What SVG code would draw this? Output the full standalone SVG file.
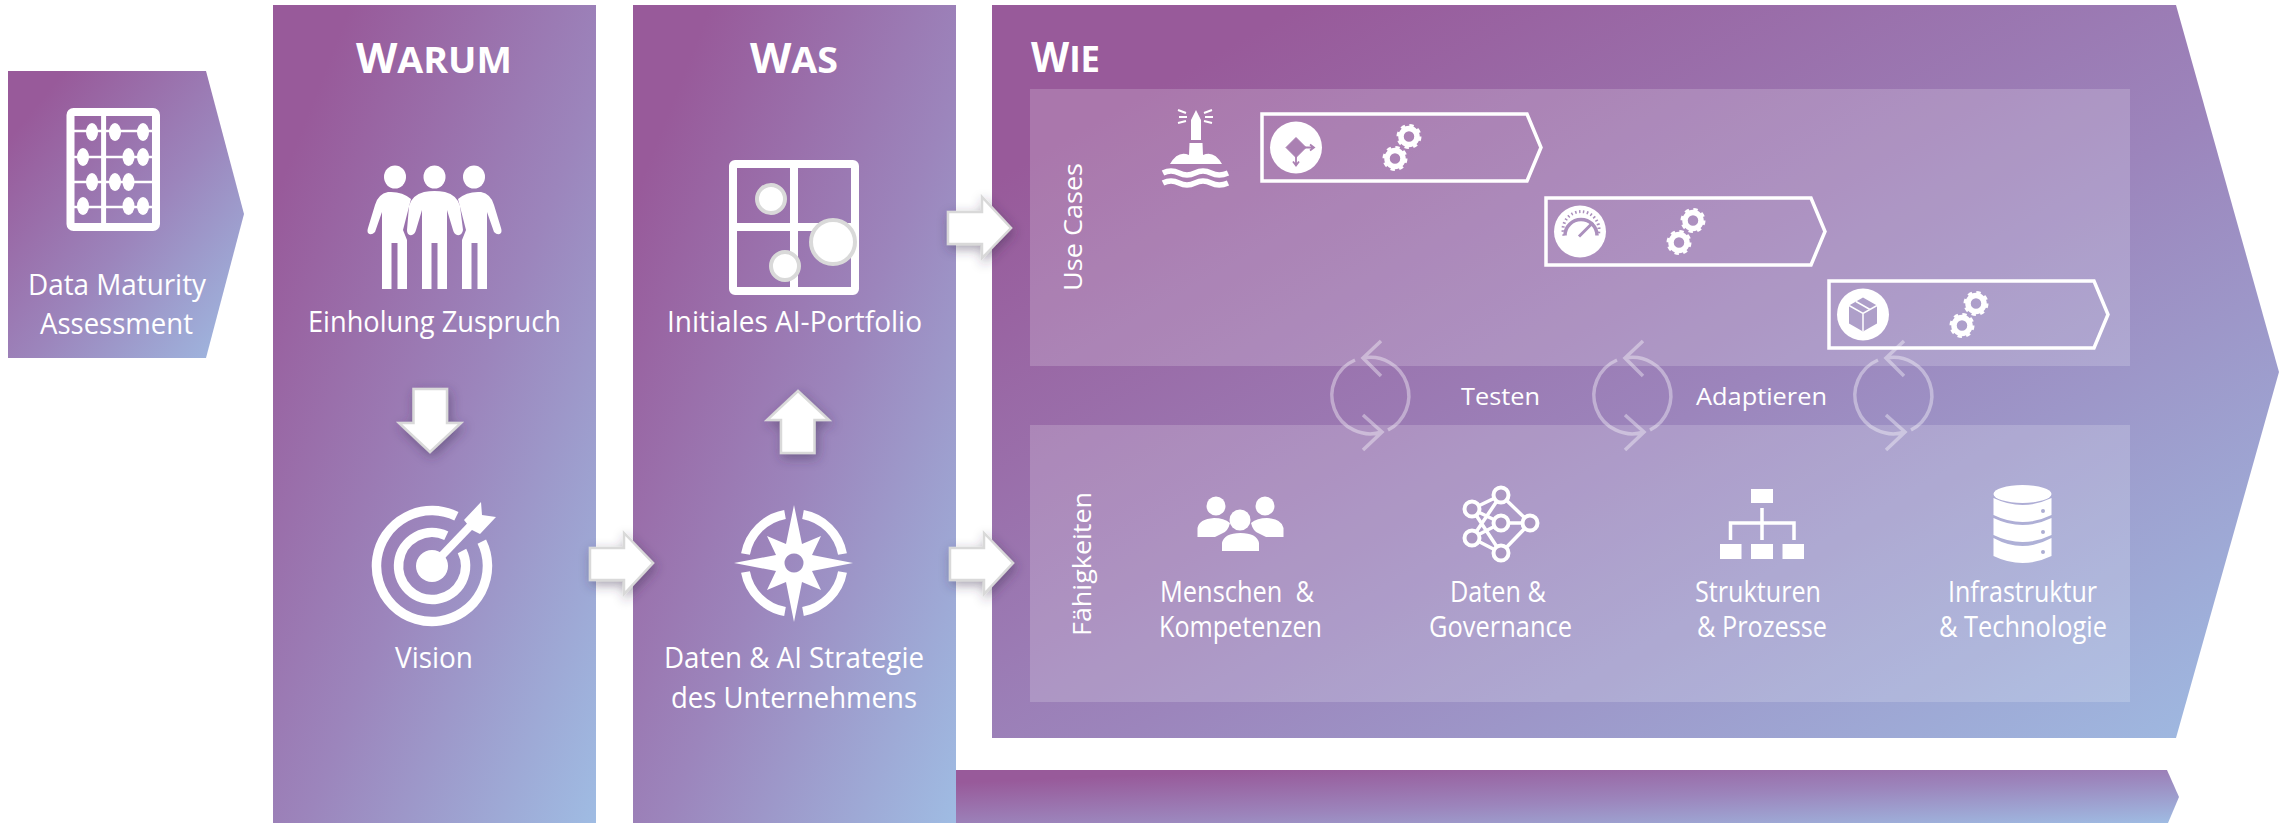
<svg xmlns="http://www.w3.org/2000/svg" width="2290" height="823" viewBox="0 0 2290 823">
<style>
text{font-family:"Open Sans","Liberation Sans",sans-serif;fill:#fff;font-size:29px;text-anchor:start}
.h{font-weight:700;font-size:36px}
.h tspan{font-size:41px}
.s{font-size:26px}
.m{font-size:24px}
.blk{fill:#fff;stroke:none}
.ring{fill:none;stroke:#fff}
.arr{fill:#fff;stroke:#d9d9d9;stroke-width:2.500;filter:url(#sh)}
.cyc{fill:none;stroke:#fff;stroke-opacity:.38;stroke-width:3.500}
.pan{fill:#fff;fill-opacity:.18}
.chev{fill:none;stroke:#fff;stroke-width:3.500}
.dot{fill:#fff;stroke:#d9d9d9;stroke-width:4}
</style>
<defs>
<linearGradient id="g" x1="0" y1="0" x2="1" y2="1">
<stop offset=".12" stop-color="#985a9a"/><stop offset=".55" stop-color="#9c85bc"/><stop offset="1" stop-color="#9fbce3"/>
</linearGradient>
<filter id="sh" x="-40%" y="-40%" width="190%" height="190%"><feDropShadow dx="2" dy="4" stdDeviation="6" flood-color="#3c2a50" flood-opacity=".45"/></filter>
<g id="gear"><circle class="ring" r="8" stroke-width="5.500"/><circle class="ring" r="11" stroke-width="3" stroke-dasharray="4.320 4.320"/></g>
<g id="gears"><use href="#gear" x="113" y="-11"/><use href="#gear" x="99" y="11"/></g>
<path id="chev" class="chev" d="M-34,-33.500H231L245,0L231,33.500H-34Z"/>
</defs>

<g id="assessment">
<polygon points="8,71 206,71 244,214 206,358 8,358" fill="url(#g)"/>
<rect x="70.500" y="112" width="85.500" height="115" rx="3" class="ring" stroke-width="8"/>
<path d="M103.600,112V227" class="ring" stroke-width="5"/>
<path d="M71,131H156M71,157H156M71,182H156M71,207H156" class="ring" stroke-width="2.500"/>
<g class="blk"><ellipse cx="92" cy="132" rx="6" ry="9"/><ellipse cx="115" cy="132" rx="6" ry="9"/><ellipse cx="143" cy="132" rx="6" ry="9"/><ellipse cx="83" cy="157" rx="6" ry="9"/><ellipse cx="128.500" cy="157" rx="6" ry="9"/><ellipse cx="143" cy="157" rx="6" ry="9"/><ellipse cx="92" cy="182" rx="6" ry="9"/><ellipse cx="115" cy="182" rx="6" ry="9"/><ellipse cx="128.500" cy="182" rx="6" ry="9"/><ellipse cx="83" cy="206" rx="6" ry="9"/><ellipse cx="128.500" cy="206" rx="6" ry="9"/><ellipse cx="143" cy="206" rx="6" ry="9"/></g>
<text x="28" y="295" textLength="178" lengthAdjust="spacingAndGlyphs">Data Maturity</text>
<text x="40" y="334" textLength="153" lengthAdjust="spacingAndGlyphs">Assessment</text>
</g>

<g id="warum">
<rect x="273" y="5" width="323" height="818" fill="url(#g)"/>
<text class="h" x="356" y="73" textLength="156" lengthAdjust="spacingAndGlyphs"><tspan>W</tspan>ARUM</text>
<g class="blk">
<ellipse cx="395" cy="177" rx="11" ry="11.500"/><ellipse cx="434.500" cy="177" rx="11" ry="11.500"/><ellipse cx="474" cy="177" rx="11" ry="11.500"/>
<path d="M388,192Q402,191 411,199L403,230L407,240V289H397.500V243H391.500V289H382V212L375,232Q371,236 368,233Q367,231 368,228L375,205Q378,194 388,192Z"/>
<path d="M481,192Q467,191 458,199L466,230L462,240V289H471.500V243H477.500V289H487V212L494,232Q498,236 501,233Q502,231 501,228L494,205Q491,194 481,192Z"/>
<path d="M424,192Q434.500,190 445,192Q457,195 460,206L463,230Q462,236 457,235Q454,234 453,230L447,210V289H437.500V243H431.500V289H422V210L416,230Q415,234 412,235Q407,236 407,230L409,206Q412,195 424,192Z"/>
</g>
<text x="308" y="332" textLength="253" lengthAdjust="spacingAndGlyphs">Einholung Zuspruch</text>
<path d="M481.800,541.600A55.500,55.500 0 1 1 456.400,516.200" class="ring" stroke-width="9.500"/>
<path d="M462,551A33.500,33.500 0 1 1 446.300,535.700" class="ring" stroke-width="9.500"/>
<circle cx="432" cy="566" r="16" class="blk"/>
<path d="M432,566L476,520" class="ring" stroke-width="8"/>
<polygon class="blk" points="481,502 464,520 472,530 480,534 496,517 482,515"/>
<text x="395" y="668" textLength="78" lengthAdjust="spacingAndGlyphs">Vision</text>
</g>

<g id="was">
<rect x="633" y="5" width="323" height="818" fill="url(#g)"/>
<text class="h" x="750" y="73" textLength="88" lengthAdjust="spacingAndGlyphs"><tspan>W</tspan>AS</text>
<rect x="733" y="164" width="122" height="127" rx="2" class="ring" stroke-width="8"/>
<path d="M794,164V291M733,227H855" class="ring" stroke-width="8"/>
<circle class="dot" cx="771" cy="199" r="14"/><circle class="dot" cx="833" cy="242" r="22"/><circle class="dot" cx="785" cy="266" r="14"/>
<text x="667" y="332" textLength="255" lengthAdjust="spacingAndGlyphs">Initiales AI-Portfolio</text>
<path class="blk" fill-rule="evenodd" d="M794,505L802,544L821,536L812,555L853,563L812,571L821,590L802,582L794,622L786,582L767,590L776,571L734,563L776,555L767,536L786,544ZM794,553.500a9.500,9.500 0 1 0 .01,0Z"/>
<path class="ring" stroke-width="9" d="M785,514.500A49,49 0 0 0 745.500,554M745.500,572A49,49 0 0 0 785,611.500M803,611.500A49,49 0 0 0 842.500,572M842.500,554A49,49 0 0 0 803,514.500"/>
<text x="664" y="668" textLength="260" lengthAdjust="spacingAndGlyphs">Daten &amp; AI Strategie</text>
<text x="671" y="708" textLength="246" lengthAdjust="spacingAndGlyphs">des Unternehmens</text>
</g>

<g id="wie">
<polygon points="992,5 2176,5 2279,372 2176,738 992,738" fill="url(#g)"/>
<text class="h" x="1031" y="72" textLength="69" lengthAdjust="spacingAndGlyphs"><tspan>W</tspan>IE</text>
</g>

<g id="bottom-bar"><polygon points="956,770 2167,770 2179,797 2168,823 956,823" fill="url(#g)"/></g>

<g id="use-cases">
<rect class="pan" x="1030" y="89" width="1100" height="277"/>
<text class="s" transform="translate(1082,291) rotate(-90)" textLength="128" lengthAdjust="spacingAndGlyphs">Use Cases</text>
<g id="lighthouse">
<path class="blk" d="M1196,110L1201,120V140H1191V120ZM1189.500,143H1202.500L1203,155Q1214,150 1222,164H1170Q1178,150 1189,155Z"/>
<path d="M1163,173q8,-4 16,0t16,0t16,0t17,0M1163,183q8,-4 16,0t16,0t16,0t17,0" class="ring" stroke-width="5.500"/>
<path d="M1178,110L1186,113M1178,123L1186,121M1179,117H1187M1212,110L1204,113M1212,123L1204,121M1213,117H1205" class="ring" stroke-width="2"/>
</g>
<g id="uc1" transform="translate(1296,147.500)">
<use href="#chev"/><circle r="26" class="blk"/>
<g fill="#aa80b2" stroke="#aa80b2"><path d="M0,-10L10,0L0,10L-10,0Z"/><path d="M8,0H18M14,-3L18,0L14,3M0,8V18M-3,14L0,18L3,14" fill="none" stroke-width="1.800"/></g>
<use href="#gears"/>
</g>
<g id="uc2" transform="translate(1580,231.500)">
<use href="#chev"/><circle r="26" class="blk"/>
<g fill="none" stroke="#ab90bd"><path d="M-15,4A16,16 0 1 1 17,4" stroke-width="3.500"/><path d="M-16,4A18,18 0 1 1 18,4" stroke-width="3" stroke-dasharray="1.500 2.500"/><path d="M-1,5L13,-9" stroke-width="3"/></g>
<use href="#gears"/>
</g>
<g id="uc3" transform="translate(1863,314.500)">
<use href="#chev"/><circle r="26" class="blk"/>
<polygon points="0,-17 14,-9 14,9 0,17 -14,9 -14,-9" fill="#ae9fc9"/>
<path d="M-14,-9L0,-1L14,-9M0,-1V17M-7,-13L7,-5" fill="none" stroke="#fff" stroke-width="1.500"/>
<use href="#gears"/>
</g>
</g>

<g id="faehigkeiten">
<rect class="pan" x="1030" y="425" width="1100" height="277"/>
<text class="s" transform="translate(1091,636) rotate(-90)" textLength="144" lengthAdjust="spacingAndGlyphs">Fähigkeiten</text>
<g id="menschen">
<g class="blk"><circle cx="1216" cy="506" r="9.500"/><circle cx="1265" cy="506" r="9.500"/><circle cx="1240" cy="520" r="10.500"/>
<path d="M1197.500,537V528Q1199,519 1214,518Q1224,518 1230,523Q1228,531 1223,533L1215,537ZM1283.500,537V528Q1282,519 1267,518Q1257,518 1251,523Q1253,531 1258,533L1266,537ZM1222,551V543Q1224,533 1240.500,533Q1257,533 1259,543V551Z"/></g>
<text x="1160" y="602" textLength="154" lengthAdjust="spacingAndGlyphs" xml:space="preserve">Menschen  &amp;</text>
<text x="1159" y="637" textLength="163" lengthAdjust="spacingAndGlyphs">Kompetenzen</text>
</g>
<g id="daten">
<path class="ring" stroke-width="3.500" d="M1472,509L1501,495M1472,509L1501,523M1472,509L1501,553M1472,538L1501,495M1472,538L1501,523M1472,538L1501,553M1501,495L1530,523M1501,523H1530M1501,553L1530,523"/>
<g fill="#ab97c2" stroke="#fff" stroke-width="4"><circle cx="1472" cy="509" r="7.500"/><circle cx="1472" cy="538" r="7.500"/><circle cx="1501" cy="495" r="7.500"/><circle cx="1501" cy="523" r="7.500"/><circle cx="1501" cy="553" r="7.500"/><circle cx="1530" cy="523" r="7.500"/></g>
<text x="1450" y="602" textLength="96" lengthAdjust="spacingAndGlyphs">Daten &amp;</text>
<text x="1429" y="637" textLength="143" lengthAdjust="spacingAndGlyphs">Governance</text>
</g>
<g id="strukturen">
<g class="blk"><rect x="1751" y="489" width="22" height="14"/><rect x="1720" y="544" width="21.500" height="15"/><rect x="1751" y="544" width="22" height="15"/><rect x="1782.500" y="544" width="21.500" height="15"/></g>
<path class="ring" stroke-width="3.500" d="M1762,508V540M1730.500,540V523H1794V540"/>
<text x="1695" y="602" textLength="126" lengthAdjust="spacingAndGlyphs">Strukturen</text>
<text x="1697" y="637" textLength="130" lengthAdjust="spacingAndGlyphs">&amp; Prozesse</text>
</g>
<g id="infrastruktur">
<g class="blk"><ellipse cx="2022.500" cy="494" rx="29" ry="9"/>
<path d="M1993.500,498Q2022.500,512 2051.500,498V515Q2022.500,529 1993.500,515ZM1993.500,518Q2022.500,532 2051.500,518V535Q2022.500,549 1993.500,535ZM1993.500,538Q2022.500,554 2051.500,538V556Q2022.500,570 1993.500,556Z"/></g>
<g fill="#adaed2"><circle cx="2043" cy="511" r="2"/><circle cx="2043" cy="532" r="2"/><circle cx="2043" cy="552" r="2"/></g>
<text x="1948" y="602" textLength="149" lengthAdjust="spacingAndGlyphs">Infrastruktur</text>
<text x="1939" y="637" textLength="168" lengthAdjust="spacingAndGlyphs">&amp; Technologie</text>
</g>
</g>

<g id="connectors">
<polygon class="arr" points="413.500,389 447,389 447,423 461,423 430,452 399,423 413.500,423"/>
<polygon class="arr" points="798,391 829,420 814.500,420 814.500,453 781,453 781,420 767,420"/>
<polygon class="arr" points="590,548 624,548 624,533 653,563 624,594 624,580 590,580"/>
<polygon class="arr" points="948,212 982,212 982,197 1011,228 982,258 982,244 948,244"/>
<polygon class="arr" points="950,548 984,548 984,533 1013,563 984,594 984,580 950,580"/>
<g id="cyc1"><path class="cyc" d="M1381,341L1363,358L1381,376M1363,358A38.500,38.500 0 0 1 1388,430M1355,360A38.500,38.500 0 0 0 1382,432M1363,415L1382,432L1363,450"/></g>
<use href="#cyc1" x="262"/>
<use href="#cyc1" x="523"/>
<text class="m" x="1461" y="405" textLength="79" lengthAdjust="spacingAndGlyphs">Testen</text>
<text class="m" x="1696" y="405" textLength="131" lengthAdjust="spacingAndGlyphs">Adaptieren</text>
</g>
</svg>
